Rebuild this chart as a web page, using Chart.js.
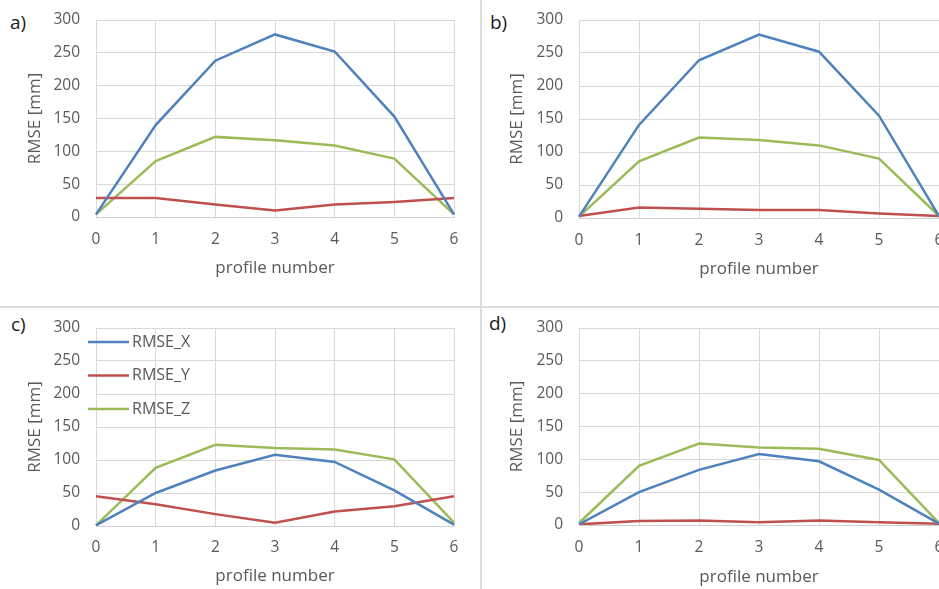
<!DOCTYPE html>
<html><head><meta charset="utf-8">
<script src="https://cdn.jsdelivr.net/npm/chart.js@4/dist/chart.umd.min.js"></script>
<style>
html,body{margin:0;padding:0;width:939px;height:589px;overflow:hidden;background:#fff;}
canvas{position:absolute;}
.sep{position:absolute;background:#dcdcdc;}
.lbl{position:absolute;font-family:'Open Sans',sans-serif;font-size:19px;line-height:22px;color:#1a1a1a;}
</style></head><body>
<div class="sep" style="left:480px;top:0;width:2px;height:589px"></div>
<div class="sep" style="left:0;top:306px;width:939px;height:2px"></div>
<div class="lbl" style="left:10px;top:11px">a)</div>
<div class="lbl" style="left:490px;top:11px">b)</div>
<div class="lbl" style="left:11px;top:313px">c)</div>
<div class="lbl" style="left:489px;top:312px">d)</div>
<canvas id="ca"></canvas>
<canvas id="cb"></canvas>
<canvas id="cc"></canvas>
<canvas id="cd"></canvas>
<script>
// ---- data ----
const profiles = ['0','1','2','3','4','5','6'];
const seriesNames = ['RMSE_X','RMSE_Y','RMSE_Z'];
const seriesColors = ['#4F81BD','#C0504D','#9BBB59'];
const yTicks = [0,50,100,150,200,250,300];

const a_X = [4, 140, 238, 278, 252, 153, 4];
const a_Y = [29, 29, 19, 10, 19, 23, 29];
const a_Z = [4, 85, 122, 117, 109, 89, 4];

const b_X = [2, 141, 239, 278, 252, 155, 3];
const b_Y = [3, 16, 14, 12, 12, 7, 3];
const b_Z = [2, 86, 122, 118, 110, 90, 3];

const c_X = [1, 50, 84, 108, 97, 54, 2];
const c_Y = [45, 33, 18, 5, 22, 30, 45];
const c_Z = [1, 88, 123, 118, 116, 101, 5];

const d_X = [1, 50, 84, 108, 97, 54, 2];
const d_Y = [1, 6, 7, 4, 7, 4, 2];
const d_Z = [3, 90, 124, 118, 116, 99, 3];

// ---- layout (page coordinates) ----
const FONT = "'Open Sans', sans-serif";
const TICK_SIZE = 15.5, TITLE_SIZE = 17, LEG_SIZE = 16;
const TXT = '#595959';

const layouts = {
  ca: {cx:0,   cy:0,   cw:470, ch:300, l:96,  r:454, t:20,  b:217, yTickRight:80,  yTitleX:35,  xTickY:240, xTitleY:268},
  cb: {cx:470, cy:0,   cw:490, ch:300, l:579, r:939, t:20,  b:218, yTickRight:563, yTitleX:517, xTickY:241, xTitleY:269},
  cc: {cx:0,   cy:300, cw:470, ch:289, l:96,  r:454, t:328, b:526, yTickRight:80,  yTitleX:35,  xTickY:548, xTitleY:576},
  cd: {cx:470, cy:300, cw:490, ch:289, l:579, r:939, t:328, b:525, yTickRight:563, yTitleX:517, xTickY:548, xTitleY:577}
};

const legendPlugin = {
  id: 'pageLegend',
  afterDraw(chart, args, opts) {
    if (!opts || !opts.show) return;
    const ctx = chart.ctx;
    ctx.save();
    ctx.font = LEG_SIZE + 'px ' + FONT;
    ctx.textBaseline = 'middle';
    ctx.textAlign = 'left';
    chart.data.datasets.forEach((ds, i) => {
      const y = opts.y0 + i * opts.dy;
      ctx.strokeStyle = ds.borderColor;
      ctx.lineWidth = 2.5;
      ctx.beginPath();
      ctx.moveTo(opts.x0, y);
      ctx.lineTo(opts.x1, y);
      ctx.stroke();
      ctx.fillStyle = TXT;
      ctx.fillText(ds.label, opts.x1 + 3, y);
    });
    ctx.restore();
  }
};

function makePanel(id, X, Y, Z, showLegend) {
  const L = layouts[id];
  const cv = document.getElementById(id);
  cv.width = L.cw; cv.height = L.ch;
  cv.style.left = L.cx + 'px'; cv.style.top = L.cy + 'px';
  cv.style.width = L.cw + 'px'; cv.style.height = L.ch + 'px';
  const aL = L.l - L.cx, aR = L.r - L.cx, aT = L.t - L.cy, aB = L.b - L.cy;
  const yW = aL;
  const xH = L.ch - aB;
  const tickLH = TICK_SIZE * 1.2, titleLH = TITLE_SIZE * 1.2;
  const yTickPad = aL - (L.yTickRight - L.cx);
  const xTickPad = (L.xTickY - L.cy) - aB - tickLH / 2;
  const yTitlePad = (L.yTitleX - L.cx) - titleLH / 2;
  const xTitlePad = L.ch - (L.xTitleY - L.cy) - titleLH / 2;
  const values = [X, Y, Z];
  new Chart(cv, {
    type: 'line',
    data: {
      labels: profiles,
      datasets: seriesNames.map((n, i) => ({
        label: n, data: values[i], borderColor: seriesColors[i], backgroundColor: seriesColors[i],
        borderWidth: 2.5, pointRadius: 0, tension: 0, fill: false
      }))
    },
    options: {
      responsive: false, animation: false, devicePixelRatio: 1,
      layout: {padding: {left: 0, top: aT, right: L.cw - aR, bottom: 0}},
      plugins: {
        legend: {display: false}, tooltip: {enabled: false}, title: {display: false},
        pageLegend: showLegend ? {show: true, x0: 88 - L.cx, x1: 129 - L.cx, y0: 342 - L.cy, dy: 33.5} : {show: false}
      },
      scales: {
        x: {
          type: 'category', offset: false,
          grid: {color: '#d9d9d9', lineWidth: 1, drawTicks: false, offset: false},
          border: {color: '#d0d0d0', width: 1},
          ticks: {color: TXT, font: {family: FONT, size: TICK_SIZE}, padding: xTickPad, maxRotation: 0, autoSkip: false},
          title: {display: true, text: 'profile number', color: TXT, font: {family: FONT, size: TITLE_SIZE}, padding: {top: 0, bottom: xTitlePad}},
          afterFit(s) { s.height = xH; s.paddingLeft = 0; s.paddingRight = 0; }
        },
        y: {
          min: 0, max: 300,
          afterBuildTicks(s) { s.ticks = yTicks.map(v => ({value: v})); },
          grid: {color: '#d9d9d9', lineWidth: 1, drawTicks: false},
          border: {display: false},
          ticks: {color: TXT, font: {family: FONT, size: TICK_SIZE}, padding: yTickPad},
          title: {display: true, text: 'RMSE [mm]', color: TXT, font: {family: FONT, size: TITLE_SIZE}, padding: {top: yTitlePad, bottom: 0}},
          afterFit(s) { s.width = yW; s.paddingTop = 10; s.paddingBottom = 10; }
        }
      }
    },
    plugins: [legendPlugin]
  });
}

makePanel('ca', a_X, a_Y, a_Z, false);
makePanel('cb', b_X, b_Y, b_Z, false);
makePanel('cc', c_X, c_Y, c_Z, true);
makePanel('cd', d_X, d_Y, d_Z, false);
</script>
</body></html>
